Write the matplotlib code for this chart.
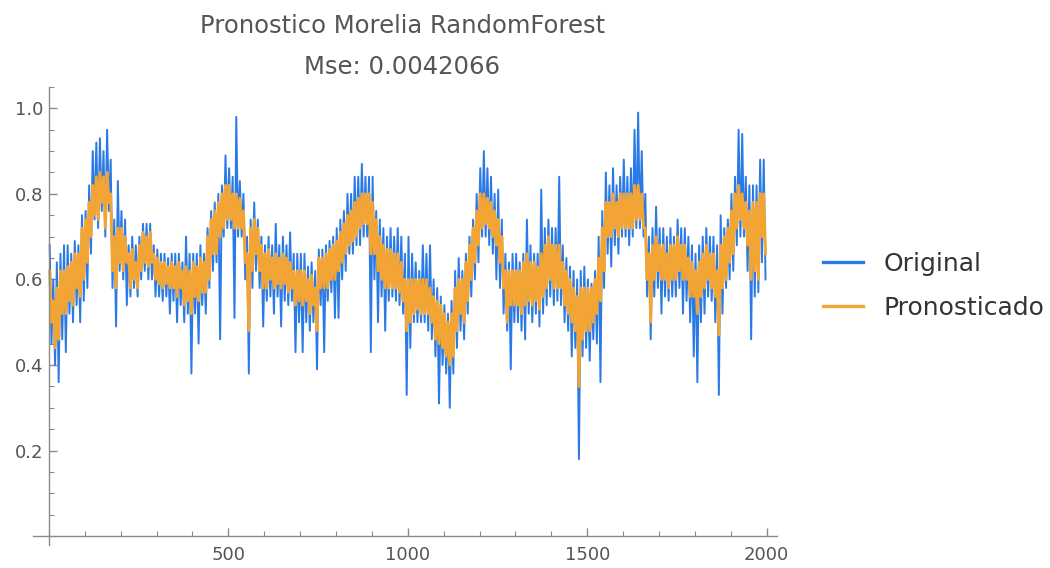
import numpy as np
import matplotlib
matplotlib.use("Agg")
import matplotlib.pyplot as plt
from matplotlib.ticker import MultipleLocator, FixedLocator

# ---- data: upper / lower envelope of each series per bin of 10 time steps,
#      read from the reference picture ----
bin_width = 10
original_hi = [
    0.68, 0.60, 0.64, 0.66, 0.68, 0.68, 0.66, 0.69, 0.68, 0.75,
    0.76, 0.82, 0.90, 0.92, 0.93, 0.90, 0.95, 0.88, 0.74, 0.83,
    0.76, 0.74, 0.68, 0.70, 0.68, 0.70, 0.73, 0.73, 0.73, 0.68,
    0.67, 0.66, 0.66, 0.65, 0.66, 0.66, 0.66, 0.64, 0.70, 0.66,
    0.66, 0.66, 0.68, 0.66, 0.72, 0.76, 0.78, 0.80, 0.82, 0.89,
    0.86, 0.84, 0.98, 0.83, 0.80, 0.70, 0.74, 0.78, 0.74, 0.70,
    0.68, 0.70, 0.68, 0.73, 0.68, 0.70, 0.68, 0.71, 0.66, 0.66,
    0.66, 0.66, 0.63, 0.64, 0.62, 0.67, 0.67, 0.68, 0.69, 0.70,
    0.72, 0.74, 0.76, 0.80, 0.80, 0.84, 0.84, 0.87, 0.84, 0.84,
    0.84, 0.76, 0.74, 0.72, 0.70, 0.72, 0.70, 0.72, 0.70, 0.66,
    0.70, 0.66, 0.64, 0.62, 0.68, 0.66, 0.68, 0.60, 0.58, 0.56,
    0.54, 0.52, 0.55, 0.62, 0.65, 0.62, 0.66, 0.70, 0.74, 0.80,
    0.86, 0.90, 0.86, 0.84, 0.80, 0.81, 0.74, 0.66, 0.64, 0.66,
    0.66, 0.64, 0.66, 0.74, 0.68, 0.66, 0.66, 0.81, 0.72, 0.74,
    0.72, 0.72, 0.84, 0.68, 0.65, 0.63, 0.62, 0.60, 0.62, 0.63,
    0.60, 0.59, 0.62, 0.70, 0.76, 0.85, 0.82, 0.86, 0.82, 0.84,
    0.88, 0.84, 0.86, 0.95, 0.99, 0.90, 0.80, 0.70, 0.72, 0.77,
    0.72, 0.72, 0.70, 0.72, 0.70, 0.74, 0.72, 0.72, 0.70, 0.68,
    0.66, 0.68, 0.70, 0.72, 0.70, 0.70, 0.68, 0.75, 0.72, 0.74,
    0.80, 0.84, 0.95, 0.94, 0.84, 0.82, 0.82, 0.82, 0.88, 0.88,
]
original_lo = [
    0.45, 0.40, 0.36, 0.46, 0.43, 0.52, 0.50, 0.54, 0.50, 0.55,
    0.58, 0.66, 0.74, 0.72, 0.76, 0.70, 0.76, 0.58, 0.49, 0.62,
    0.60, 0.54, 0.56, 0.58, 0.56, 0.60, 0.62, 0.60, 0.60, 0.56,
    0.56, 0.55, 0.56, 0.52, 0.55, 0.50, 0.54, 0.50, 0.52, 0.38,
    0.52, 0.45, 0.54, 0.52, 0.58, 0.62, 0.64, 0.46, 0.70, 0.72,
    0.72, 0.51, 0.70, 0.70, 0.60, 0.38, 0.58, 0.62, 0.58, 0.49,
    0.55, 0.56, 0.52, 0.56, 0.49, 0.55, 0.54, 0.55, 0.43, 0.50,
    0.43, 0.50, 0.48, 0.50, 0.39, 0.54, 0.43, 0.55, 0.57, 0.51,
    0.51, 0.60, 0.62, 0.66, 0.66, 0.68, 0.68, 0.70, 0.70, 0.43,
    0.60, 0.50, 0.56, 0.48, 0.55, 0.56, 0.55, 0.54, 0.52, 0.33,
    0.44, 0.50, 0.50, 0.50, 0.50, 0.48, 0.46, 0.42, 0.31, 0.40,
    0.38, 0.30, 0.38, 0.44, 0.48, 0.46, 0.52, 0.56, 0.60, 0.64,
    0.70, 0.70, 0.68, 0.66, 0.60, 0.58, 0.52, 0.48, 0.39, 0.50,
    0.50, 0.48, 0.46, 0.52, 0.50, 0.52, 0.49, 0.52, 0.54, 0.56,
    0.54, 0.55, 0.54, 0.50, 0.48, 0.42, 0.44, 0.18, 0.42, 0.44,
    0.41, 0.46, 0.45, 0.36, 0.58, 0.66, 0.63, 0.68, 0.66, 0.70,
    0.70, 0.68, 0.70, 0.72, 0.72, 0.70, 0.56, 0.46, 0.56, 0.58,
    0.52, 0.56, 0.55, 0.56, 0.56, 0.58, 0.52, 0.55, 0.50, 0.42,
    0.36, 0.50, 0.52, 0.56, 0.55, 0.50, 0.33, 0.52, 0.58, 0.60,
    0.62, 0.68, 0.70, 0.70, 0.62, 0.46, 0.56, 0.57, 0.64, 0.60,
]
pronosticado_hi = [
    0.62, 0.55, 0.58, 0.62, 0.62, 0.63, 0.64, 0.66, 0.66, 0.72,
    0.74, 0.78, 0.82, 0.84, 0.85, 0.84, 0.85, 0.80, 0.70, 0.72,
    0.72, 0.70, 0.66, 0.67, 0.64, 0.68, 0.71, 0.70, 0.71, 0.66,
    0.65, 0.64, 0.64, 0.63, 0.64, 0.63, 0.64, 0.62, 0.63, 0.62,
    0.64, 0.63, 0.65, 0.64, 0.70, 0.74, 0.76, 0.78, 0.80, 0.82,
    0.82, 0.80, 0.80, 0.79, 0.76, 0.66, 0.72, 0.74, 0.72, 0.68,
    0.66, 0.67, 0.65, 0.66, 0.65, 0.66, 0.65, 0.64, 0.62, 0.62,
    0.62, 0.62, 0.60, 0.61, 0.58, 0.65, 0.65, 0.66, 0.67, 0.68,
    0.69, 0.71, 0.73, 0.75, 0.76, 0.78, 0.79, 0.80, 0.80, 0.80,
    0.78, 0.74, 0.70, 0.68, 0.67, 0.67, 0.66, 0.66, 0.64, 0.60,
    0.60, 0.60, 0.60, 0.60, 0.60, 0.60, 0.58, 0.56, 0.55, 0.54,
    0.52, 0.50, 0.52, 0.58, 0.60, 0.60, 0.64, 0.68, 0.72, 0.76,
    0.80, 0.80, 0.79, 0.78, 0.76, 0.74, 0.70, 0.62, 0.62, 0.62,
    0.62, 0.62, 0.64, 0.66, 0.64, 0.64, 0.63, 0.66, 0.68, 0.70,
    0.68, 0.68, 0.68, 0.64, 0.62, 0.60, 0.58, 0.56, 0.58, 0.58,
    0.58, 0.58, 0.60, 0.65, 0.72, 0.78, 0.78, 0.80, 0.78, 0.80,
    0.80, 0.80, 0.80, 0.82, 0.82, 0.80, 0.72, 0.66, 0.68, 0.70,
    0.68, 0.68, 0.66, 0.68, 0.68, 0.70, 0.68, 0.68, 0.65, 0.64,
    0.62, 0.64, 0.66, 0.68, 0.66, 0.66, 0.62, 0.68, 0.70, 0.72,
    0.76, 0.80, 0.82, 0.80, 0.78, 0.76, 0.78, 0.78, 0.80, 0.80,
]
pronosticado_lo = [
    0.50, 0.44, 0.46, 0.52, 0.52, 0.55, 0.54, 0.58, 0.56, 0.60,
    0.64, 0.70, 0.75, 0.74, 0.78, 0.72, 0.78, 0.62, 0.58, 0.64,
    0.62, 0.64, 0.58, 0.60, 0.58, 0.62, 0.64, 0.63, 0.64, 0.60,
    0.59, 0.58, 0.59, 0.58, 0.58, 0.56, 0.58, 0.54, 0.55, 0.52,
    0.56, 0.55, 0.57, 0.57, 0.60, 0.66, 0.66, 0.70, 0.72, 0.74,
    0.74, 0.72, 0.72, 0.72, 0.64, 0.48, 0.62, 0.66, 0.62, 0.58,
    0.58, 0.60, 0.58, 0.59, 0.58, 0.59, 0.57, 0.58, 0.54, 0.55,
    0.54, 0.55, 0.52, 0.54, 0.48, 0.58, 0.58, 0.58, 0.60, 0.60,
    0.62, 0.64, 0.66, 0.68, 0.69, 0.70, 0.72, 0.73, 0.73, 0.66,
    0.66, 0.62, 0.60, 0.58, 0.58, 0.58, 0.58, 0.57, 0.55, 0.48,
    0.50, 0.52, 0.53, 0.52, 0.52, 0.52, 0.50, 0.46, 0.45, 0.44,
    0.42, 0.40, 0.42, 0.48, 0.52, 0.50, 0.55, 0.60, 0.64, 0.68,
    0.72, 0.73, 0.72, 0.70, 0.68, 0.64, 0.58, 0.50, 0.54, 0.54,
    0.54, 0.52, 0.54, 0.55, 0.54, 0.55, 0.53, 0.56, 0.58, 0.60,
    0.58, 0.58, 0.58, 0.54, 0.52, 0.50, 0.48, 0.35, 0.46, 0.48,
    0.48, 0.50, 0.52, 0.55, 0.62, 0.70, 0.70, 0.72, 0.70, 0.72,
    0.72, 0.72, 0.72, 0.74, 0.74, 0.72, 0.60, 0.50, 0.60, 0.62,
    0.60, 0.60, 0.58, 0.60, 0.60, 0.62, 0.60, 0.60, 0.56, 0.56,
    0.52, 0.56, 0.58, 0.60, 0.58, 0.56, 0.47, 0.58, 0.60, 0.64,
    0.66, 0.72, 0.74, 0.72, 0.68, 0.60, 0.62, 0.60, 0.70, 0.66,
]
series_names = ["Original", "Pronosticado"]
title_lines = ["Pronostico Morelia RandomForest", "Mse: 0.0042066"]
x_ticks = [500, 1000, 1500, 2000]
y_ticks = [0.2, 0.4, 0.6, 0.8, 1.0]

BLUE = "#2a7ae6"
ORANGE = "#f2a435"
GRAY = "#555555"
AXIS = "#8a8a8a"


def trace(hi, lo):
    """Alternate each bin's upper and lower value along the time axis."""
    n = len(hi)
    start = np.arange(n) * bin_width
    xs = np.column_stack([start + 2, start + 7]).ravel()
    ys = np.column_stack([hi, lo]).ravel()
    return xs, ys


fig = plt.figure(figsize=(10.5, 5.68), dpi=100)
ax = fig.add_axes([0.0314, 0.041, 0.7086, 0.806])

xo, yo = trace(original_hi, original_lo)
xp, yp = trace(pronosticado_hi, pronosticado_lo)
ax.plot(xo, yo, color=BLUE, lw=1.4, label=series_names[0])
ax.plot(xp, yp, color=ORANGE, lw=2.1, label=series_names[1])

ax.set_xlim(-44.6, 2029)
ax.set_ylim(-0.02, 1.05)

for s in ["top", "right"]:
    ax.spines[s].set_visible(False)
ax.spines["left"].set_position(("data", 0))
ax.spines["bottom"].set_position(("data", 0))
for s in ["left", "bottom"]:
    ax.spines[s].set_color(AXIS)
    ax.spines[s].set_linewidth(1.0)

ax.xaxis.set_major_locator(FixedLocator(x_ticks))
ax.xaxis.set_minor_locator(MultipleLocator(100))
ax.yaxis.set_major_locator(FixedLocator(y_ticks))
ax.yaxis.set_minor_locator(MultipleLocator(0.05))
ax.set_xticklabels([str(t) for t in x_ticks])
ax.set_yticklabels([f"{t:.1f}" for t in y_ticks])
ax.tick_params(axis="both", which="major", direction="in", length=6, width=1.0,
               color=AXIS, labelcolor=GRAY, labelsize=13)
ax.tick_params(axis="both", which="minor", direction="in", length=3.5, width=0.8,
               color=AXIS)
ax.tick_params(axis="x", which="major", pad=7)
ax.tick_params(axis="y", which="major", pad=4)

fig.text(0.383, 0.942, title_lines[0], ha="center", va="baseline", color=GRAY, fontsize=17.5)
fig.text(0.383, 0.870, title_lines[1], ha="center", va="baseline", color=GRAY, fontsize=17.5)

leg = fig.legend(loc="center left", bbox_to_anchor=(0.784, 0.4965), frameon=False,
                 fontsize=18, handlelength=1.6, handletextpad=0.8, labelspacing=0.8,
                 borderpad=0, borderaxespad=0)
for line in leg.get_lines():
    line.set_linewidth(2.4)
for t in leg.get_texts():
    t.set_color("#333333")

fig.savefig("out.png", dpi=100)
